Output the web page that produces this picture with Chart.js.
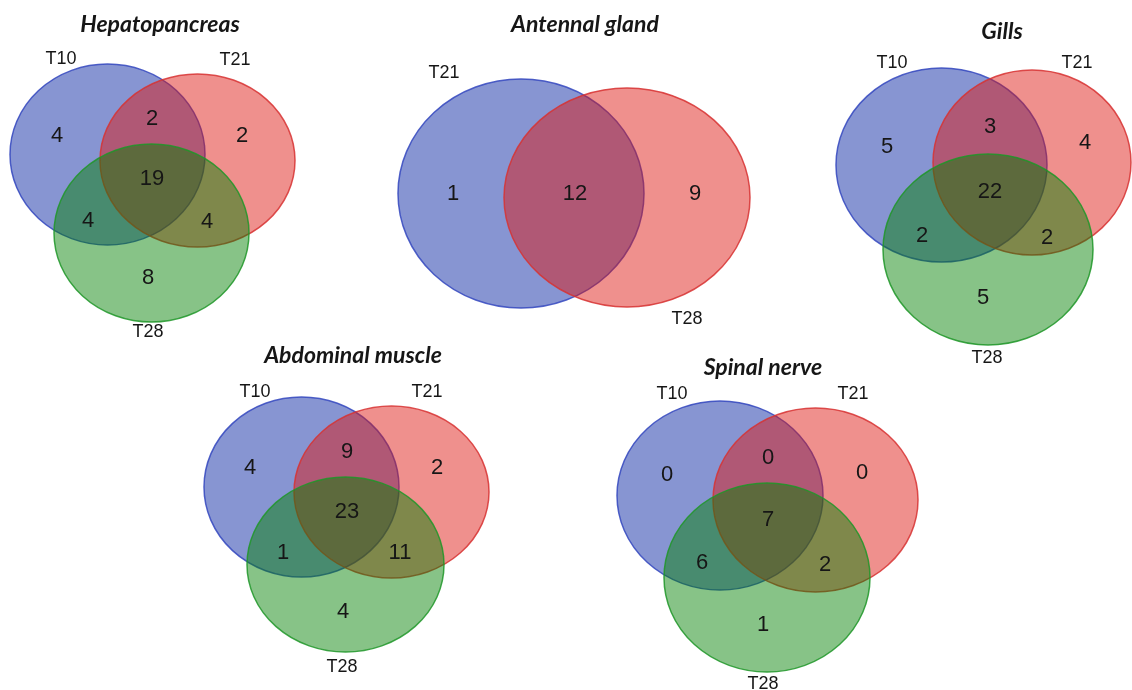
<!DOCTYPE html>
<html>
<head>
<meta charset="utf-8">
<script src="https://cdn.jsdelivr.net/npm/chart.js@4.4.0/dist/chart.umd.min.js"></script>
<style>
  html, body { margin: 0; padding: 0; background: #fff; }
  canvas { display: block; }
</style>
</head>
<body>
<canvas id="venn" width="1132" height="690"></canvas>
<script>
// Region counts, order: A only, A∩B, B only, A∩B∩C, A∩C, B∩C, C only
const hepatopancreas = [4, 2, 2, 19, 4, 4, 8];
const gills = [5, 3, 4, 22, 2, 2, 5];
const abdominalMuscle = [4, 9, 2, 23, 1, 11, 4];
const spinalNerve = [0, 0, 0, 7, 6, 2, 1];
// two-set panel: A only, A∩B, B only
const antennalGland = [1, 12, 9];

const setsThree = ['T10', 'T21', 'T28'];
const setsTwo = ['T21', 'T28'];
const titles = ['Hepatopancreas', 'Antennal gland', 'Gills', 'Abdominal muscle', 'Spinal nerve'];

// fill / outline per set, drawn in this order (blue, red, green)
const setFills = ['rgba(0, 30, 160, 0.47)', 'rgba(222, 20, 12, 0.47)', 'rgba(0, 128, 0, 0.47)'];
const setLines = ['rgba(50, 70, 190, 0.85)', 'rgba(215, 50, 50, 0.85)', 'rgba(30, 150, 40, 0.85)'];

// layout in canvas units: ellipses [cx, cy, rx, ry], count spots, set name spots, title spot
const panels = [
  {
    title: titles[0], sets: setsThree, counts: hepatopancreas,
    ellipses: [[107.5, 154.5, 97.5, 90.5], [197.5, 160.5, 97.5, 86.5], [151.5, 233, 97.5, 89]],
    spots: [[57, 136], [152, 119], [242, 136], [152, 179], [88, 221], [207, 222], [148, 278]],
    setSpots: [[61, 59], [235, 60], [148, 332]],
    titleAt: [160, 25]
  },
  {
    title: titles[1], sets: setsTwo, counts: antennalGland,
    ellipses: [[521, 193.5, 123, 114.5], [627, 197.5, 123, 109.5]],
    spots: [[453, 194], [575, 194], [695, 194]],
    setSpots: [[444, 73], [687, 319]],
    titleAt: [585, 25]
  },
  {
    title: titles[2], sets: setsThree, counts: gills,
    ellipses: [[941.5, 165, 105.5, 97], [1032, 162.5, 99, 92.5], [988, 249.5, 105, 95.5]],
    spots: [[887, 147], [990, 127], [1085, 143], [990, 192], [922, 236], [1047, 238], [983, 298]],
    setSpots: [[892, 63], [1077, 63], [987, 358]],
    titleAt: [1002, 32]
  },
  {
    title: titles[3], sets: setsThree, counts: abdominalMuscle,
    ellipses: [[301.5, 487, 97.5, 90], [391.5, 492, 97.5, 86], [345.5, 564.5, 98.5, 87.5]],
    spots: [[250, 468], [347, 452], [437, 468], [347, 512], [283, 553], [400, 553], [343, 612]],
    setSpots: [[255, 392], [427, 392], [342, 667]],
    titleAt: [353, 356]
  },
  {
    title: titles[4], sets: setsThree, counts: spinalNerve,
    ellipses: [[720, 495.5, 103, 94.5], [815.5, 500, 102.5, 92], [767, 577.5, 103, 94.5]],
    spots: [[667, 475], [768, 458], [862, 473], [768, 520], [702, 563], [825, 565], [763, 625]],
    setSpots: [[672, 394], [853, 394], [763, 684]],
    titleAt: [763, 368]
  }
];

const vennPlugin = {
  id: 'venn',
  beforeDatasetsDraw(chart) {
    const { ctx, scales: { x, y } } = chart;
    ctx.save();
    panels.forEach(p => {
      p.ellipses.forEach((e, i) => {
        const cx = x.getPixelForValue(e[0]);
        const cy = y.getPixelForValue(e[1]);
        const rx = Math.abs(x.getPixelForValue(e[0] + e[2]) - cx);
        const ry = Math.abs(y.getPixelForValue(e[1] + e[3]) - cy);
        ctx.beginPath();
        ctx.ellipse(cx, cy, rx, ry, 0, 0, Math.PI * 2);
        ctx.fillStyle = setFills[i];
        ctx.fill();
        ctx.lineWidth = 1.5;
        ctx.strokeStyle = setLines[i];
        ctx.stroke();
      });
    });
    ctx.restore();
  },
  afterDatasetsDraw(chart) {
    const { ctx, scales: { x, y } } = chart;
    ctx.save();
    ctx.textAlign = 'center';
    ctx.textBaseline = 'middle';
    ctx.fillStyle = '#161616';

    // region counts sit on the dataset points
    chart.data.datasets.forEach((ds, di) => {
      const meta = chart.getDatasetMeta(di);
      ctx.font = '22px "Liberation Sans", Arial, sans-serif';
      meta.data.forEach((pt, i) => {
        ctx.fillText(String(ds.data[i].count), pt.x, pt.y);
      });
    });

    panels.forEach(p => {
      ctx.font = '18px "Liberation Sans", Arial, sans-serif';
      p.sets.forEach((name, i) => {
        ctx.fillText(name, x.getPixelForValue(p.setSpots[i][0]), y.getPixelForValue(p.setSpots[i][1]));
      });
      ctx.font = 'italic bold 23px Lato, "Open Sans", sans-serif';
      ctx.fillText(p.title, x.getPixelForValue(p.titleAt[0]), y.getPixelForValue(p.titleAt[1]));
    });
    ctx.restore();
  }
};

const ctx = document.getElementById('venn').getContext('2d');
new Chart(ctx, {
  type: 'scatter',
  data: {
    datasets: panels.map(p => ({
      label: p.title,
      data: p.spots.map((s, i) => ({ x: s[0], y: s[1], count: p.counts[i] })),
      pointRadius: 0,
      pointHoverRadius: 0
    }))
  },
  options: {
    responsive: false,
    animation: false,
    devicePixelRatio: 1,
    events: [],
    layout: { padding: 0 },
    plugins: {
      legend: { display: false },
      tooltip: { enabled: false }
    },
    scales: {
      x: { type: 'linear', min: 0, max: 1132, display: false },
      y: { type: 'linear', min: 0, max: 690, reverse: true, display: false }
    }
  },
  plugins: [vennPlugin]
});
</script>
</body>
</html>
